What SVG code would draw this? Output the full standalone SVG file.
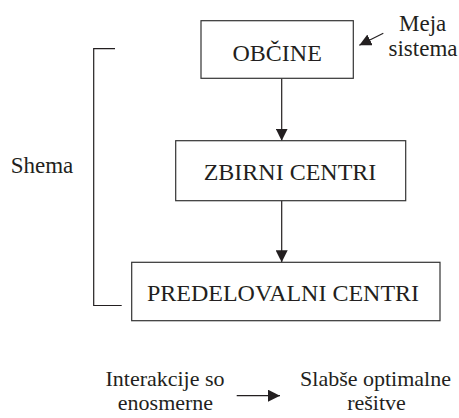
<svg xmlns="http://www.w3.org/2000/svg" width="459" height="418" viewBox="0 0 459 418">
<style>
.box{fill:#fff;stroke:#333;stroke-width:1.2}
text{font-family:"Liberation Serif","Times New Roman",serif;font-size:23px;fill:#231f20;text-anchor:middle}
.bt{font-size:24px}
.sm{font-size:22px}
.ln{fill:none;stroke:#231f20;stroke-width:1.2}
</style>
<defs>
<marker id="ah" viewBox="0 0 12 12" refX="12" refY="6" markerWidth="12" markerHeight="12" markerUnits="userSpaceOnUse" orient="auto">
<path d="M0,0 L12,6 L0,12 Z" fill="#231f20"/>
</marker>
</defs>
<rect width="459" height="418" fill="#fff"/>
<g id="connectors">
<line class="ln" x1="281.7" y1="78.3" x2="281.7" y2="140.7" marker-end="url(#ah)"/>
<line class="ln" x1="281.7" y1="200.7" x2="281.7" y2="262.3" marker-end="url(#ah)"/>
<line class="ln" x1="383.3" y1="33.3" x2="359.3" y2="45.3" marker-end="url(#ah)"/>
<line class="ln" x1="236.7" y1="395.7" x2="280" y2="395.7" marker-end="url(#ah)"/>
<polyline class="ln" points="115,48.7 93.7,48.7 93.7,305.5 121.7,305.5"/>
</g>
<g id="obcine">
<rect class="box" x="201" y="20.7" width="152.3" height="57.6"/>
<text class="bt" x="277.2" y="60.5">OBČINE</text>
</g>
<g id="zbirni">
<rect class="box" x="175.7" y="140.7" width="230" height="60"/>
<text class="bt" x="290" y="180">ZBIRNI CENTRI</text>
</g>
<g id="predelovalni">
<rect class="box" x="131.7" y="262.3" width="308.3" height="58.4"/>
<text class="bt" x="283" y="300.5">PREDELOVALNI CENTRI</text>
</g>
<g id="meja">
<text x="422.7" y="30.5">Meja</text>
<text x="423" y="55.5">sistema</text>
</g>
<g id="shema">
<text x="42" y="172.5">Shema</text>
</g>
<g id="interakcije">
<text class="sm" x="165" y="385.5">Interakcije so</text>
<text class="sm" x="165.5" y="410">enosmerne</text>
</g>
<g id="slabse">
<text class="sm" x="375.5" y="385.5">Slabše optimalne</text>
<text class="sm" x="376.5" y="410">rešitve</text>
</g>
</svg>
